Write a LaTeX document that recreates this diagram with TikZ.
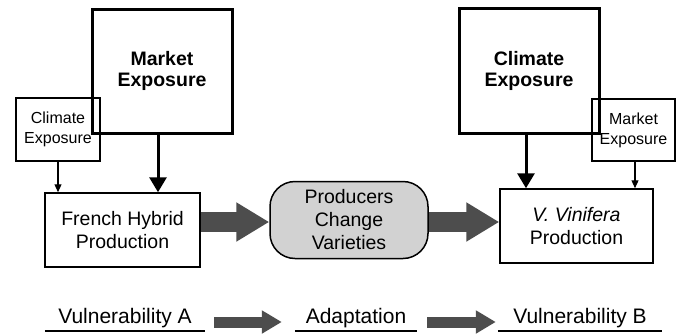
\documentclass[tikz,border=0pt]{standalone}
\usepackage{fontspec}
\setmainfont{Liberation Sans}
\usetikzlibrary{arrows.meta,calc}
\definecolor{fatgray}{HTML}{4D4D4D}
\definecolor{boxgray}{HTML}{D2D2D2}
\tikzset{
	bigbox/.style={draw, line width=3pt, inner sep=0pt, align=center, font=\bfseries\fontsize{19.5}{21}\selectfont},
	smallbox/.style={draw, line width=1.3pt, inner sep=0pt, align=center, font=\fontsize{16}{20}\selectfont},
	prodbox/.style={draw, line width=1.5pt, inner sep=0pt, align=center, font=\fontsize{19.5}{23}\selectfont},
	bigarrow/.style={line width=3pt, -{Triangle[length=15pt,width=17pt]}},
	smallarrow/.style={line width=1.2pt, -{Triangle[length=8pt,width=7pt]}},
	fatarrow/.style={line width=20pt, fatgray, -{Triangle[length=33pt,width=37pt]}},
	flatarrow/.style={line width=11pt, fatgray, -{Triangle[length=20pt,width=22pt]}},
	ulabel/.style={anchor=base, inner xsep=0pt, font=\fontsize{21}{24}\selectfont},
	uline/.style={line width=2pt}
}
\def\underlabel(#1){\draw[uline] ([yshift=-8pt]#1.base west) -- ([yshift=-8pt]#1.base east);}

\begin{document}
\begin{tikzpicture}[x=1pt,y=-1pt]
	%%%%% START %%%%%
	\useasboundingbox (0,0) rectangle (681,333);
	
	% left side
	\node[smallbox, minimum width=84pt, minimum height=63pt] (climL) at (58, 129.5) {Climate\\Exposure};
	\node[bigbox, minimum width=140pt, minimum height=124pt] (markL) at (162, 71) {Market\\Exposure};
	\node[prodbox, minimum width=155pt, minimum height=74pt] (hybrid) at (122.5, 230) {French Hybrid\\Production};
	
	\draw[smallarrow] (climL.south) -- (climL.south |- hybrid.north);
	\draw[bigarrow] ([xshift=-4pt]markL.south) -- ([xshift=-4pt]markL.south |- hybrid.north);
	
	% middle
	\node[prodbox, fill=boxgray, rounded corners=25pt, minimum width=158pt, minimum height=77pt] (change) at (349, 220) {Producers\\Change\\Varieties};
	
	% right side
	\node[bigbox, minimum width=140pt, minimum height=125pt] (climR) at (529, 70.5) {Climate\\Exposure};
	\node[smallbox, minimum width=83pt, minimum height=62pt] (markR) at (633.5, 130) {Market\\Exposure};
	\node[prodbox, minimum width=153pt, minimum height=74pt] (vinifera) at (576.5, 226) {\textit{V. Vinifera}\\Production};
	
	\draw[bigarrow] ([xshift=-3pt]climR.south) -- ([xshift=-3pt]climR.south |- vinifera.north);
	\draw[smallarrow] ([xshift=1.5pt]markR.south) -- ([xshift=1.5pt]markR.south |- vinifera.north);
	
	\draw[fatarrow] ([yshift=-2pt]change.west -| hybrid.east) -- ([yshift=-2pt]change.west);
	\draw[fatarrow] ([yshift=-2pt]change.east) -- ([yshift=-2pt]change.east -| vinifera.west);
	
	% bottom row
	\node[ulabel, minimum width=160pt] (vulnA) at (125, 323) {Vulnerability A};
	\node[ulabel, minimum width=122pt] (adapt) at (356, 323) {Adaptation};
	\node[ulabel, minimum width=164pt] (vulnB) at (580, 323) {Vulnerability B};
	\underlabel(vulnA)
	\underlabel(adapt)
	\underlabel(vulnB)
	
	\draw[flatarrow] ([xshift=9pt,yshift=1pt]vulnA.base east) -- ([xshift=-13pt,yshift=1pt]adapt.base west);
	\draw[flatarrow] ([xshift=10pt,yshift=1pt]adapt.base east) -- ([xshift=-2pt,yshift=1pt]vulnB.base west);
	%%%%% END %%%%%
\end{tikzpicture}
\end{document}
